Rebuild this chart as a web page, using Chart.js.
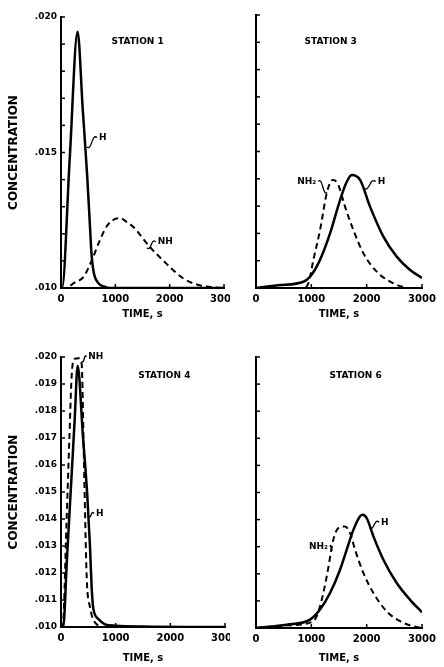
<!DOCTYPE html>
<html>
<head>
<meta charset="utf-8">
<script src="https://cdn.jsdelivr.net/npm/chart.js@4.4.1/dist/chart.umd.min.js"></script>
<style>
  body { margin: 0; background: #fff; width: 444px; height: 667px; position: relative; overflow: hidden; }
  canvas { position: absolute; }
</style>
</head>
<body>
<canvas id="st1" width="230" height="320" style="left:0;top:0"></canvas>
<canvas id="st3" width="214" height="320" style="left:230px;top:0"></canvas>
<canvas id="st4" width="230" height="347" style="left:0;top:320px"></canvas>
<canvas id="st6" width="214" height="347" style="left:230px;top:320px"></canvas>
<script>
// time in s, concentration
const st1TimeH = [0, 20, 160, 305, 400, 480, 530, 560, 600, 680, 800, 900, 3000];
const st1ConcH = [0.0100, 0.0100, 0.01475, 0.01946, 0.0166, 0.0142, 0.0124, 0.0113, 0.0106, 0.0102, 0.01005, 0.0100, 0.0100];
const st1TimeNH = [0, 80, 250, 410, 563, 716, 850, 1000, 1083, 1200, 1327, 1633, 1939, 2245, 2550, 2960];
const st1ConcNH = [0.0100, 0.0100, 0.0102, 0.0104, 0.0110, 0.01177, 0.0123, 0.01255, 0.01258, 0.01245, 0.01226, 0.01152, 0.0109, 0.01036, 0.0101, 0.0100];

const st3TimeH = [0, 400, 856, 976, 1157, 1338, 1519, 1640, 1730, 1881, 2061, 2302, 2543, 2785, 3000];
const st3ConcH = [0.0100, 0.0101, 0.01023, 0.01041, 0.01103, 0.0120, 0.01322, 0.01389, 0.01414, 0.01396, 0.01298, 0.01188, 0.01115, 0.01066, 0.01037];
const st3TimeNH = [0, 850, 946, 1037, 1157, 1278, 1350, 1398, 1488, 1609, 1760, 1941, 2182, 2483, 2725];
const st3ConcNH = [0.0100, 0.0100, 0.01017, 0.01103, 0.01212, 0.01347, 0.0139, 0.01396, 0.01377, 0.01298, 0.01212, 0.01127, 0.0106, 0.01017, 0.0100];

const st4TimeH = [0, 40, 110, 180, 250, 305, 400, 480, 530, 560, 590, 683, 804, 1000, 1500, 3000];
const st4ConcH = [0.0100, 0.0100, 0.01256, 0.01511, 0.01767, 0.01968, 0.0171, 0.0149, 0.0130, 0.0115, 0.0107, 0.0103, 0.0101, 0.01005, 0.01002, 0.0100];
const st4TimeNH = [0, 30, 100, 150, 195, 240, 330, 378, 420, 470, 530, 652, 800, 3000];
const st4ConcNH = [0.0100, 0.0100, 0.0138, 0.0168, 0.0193, 0.01993, 0.01995, 0.01975, 0.0161, 0.01185, 0.01074, 0.0101, 0.0100, 0.0100];

const st6TimeH = [0, 554, 976, 1157, 1338, 1519, 1640, 1760, 1881, 1929, 2002, 2122, 2302, 2543, 2785, 3000];
const st6ConcH = [0.0100, 0.01012, 0.01031, 0.01068, 0.01129, 0.01215, 0.01289, 0.01362, 0.01412, 0.01418, 0.01405, 0.01338, 0.01252, 0.01166, 0.01104, 0.01058];
const st6TimeNH = [0, 600, 1037, 1157, 1278, 1398, 1489, 1609, 1700, 1790, 1941, 2122, 2363, 2604, 2845, 3000];
const st6ConcNH = [0.0100, 0.0101, 0.01025, 0.0108, 0.0119, 0.01326, 0.01369, 0.01375, 0.0135, 0.01289, 0.01203, 0.01129, 0.01061, 0.01025, 0.01006, 0.0100];

const xTickLabels = ['0', '1000', '2000', '3000'];
const yTickLabelsSt1 = ['.010', '.015', '.020'];
const yTickLabelsSt4 = ['.010', '.011', '.012', '.013', '.014', '.015', '.016', '.017', '.018', '.019', '.020'];

const FONT = "'DejaVu Sans', sans-serif";

function pts(times, concs) {
    return times.map((t, i) => ({ x: t, y: concs[i] }));
}

// tick marks inside the axes, station title, curve labels with little leaders
const decorPlugin = {
    id: 'decor',
    afterDraw(chart, args, opts) {
        const ctx = chart.ctx;
        const xs = chart.scales.x, ys = chart.scales.y;
        const area = chart.chartArea;
        ctx.save();
        ctx.strokeStyle = '#000';
        ctx.lineWidth = 1.5;
        ys.ticks.forEach(t => {
            const y = ys.getPixelForValue(t.value);
            ctx.beginPath();
            ctx.moveTo(area.left, y);
            ctx.lineTo(area.left + 4, y);
            ctx.stroke();
        });
        xs.ticks.forEach(t => {
            if (t.value === 0) return;
            const x = xs.getPixelForValue(t.value);
            ctx.beginPath();
            ctx.moveTo(x, area.bottom);
            ctx.lineTo(x, area.bottom - 4);
            ctx.stroke();
        });

        ctx.fillStyle = '#000';
        ctx.font = 'bold 9px ' + FONT;
        ctx.textAlign = 'center';
        ctx.textBaseline = 'middle';
        ctx.fillText(opts.title, area.left + opts.titleX * area.width, area.top + opts.titleY);

        ctx.lineWidth = 1.3;
        (opts.labels || []).forEach(l => {
            const lx = xs.getPixelForValue(l.x), ly = ys.getPixelForValue(l.y);
            const cx = xs.getPixelForValue(l.cx), cy = ys.getPixelForValue(l.cy);
            ctx.textAlign = l.align;
            ctx.fillText(l.text, lx, ly);
            const ex = l.align === 'left' ? lx - 2 : lx + 2;
            const dx = ex - cx;
            ctx.beginPath();
            ctx.moveTo(cx, cy);
            ctx.bezierCurveTo(cx + dx * 0.5, cy + 4, ex - dx * 0.5, ly - 5, ex, ly);
            ctx.stroke();
        });
        ctx.restore();
    }
};

function makeChart(id, cfg) {
    const yLabels = cfg.yLabels;
    new Chart(document.getElementById(id), {
        type: 'line',
        data: {
            datasets: [
                { data: pts(cfg.tH, cfg.cH), borderColor: '#000', borderWidth: 2.5 },
                { data: pts(cfg.tNH, cfg.cNH), borderColor: '#000', borderWidth: 2, borderDash: [6, 4] }
            ]
        },
        options: {
            responsive: false,
            animation: false,
            elements: {
                point: { radius: 0 },
                line: { cubicInterpolationMode: 'monotone', fill: false }
            },
            layout: { padding: cfg.pad },
            plugins: {
                legend: { display: false },
                tooltip: { enabled: false },
                decor: { title: cfg.title, titleX: cfg.titleX, titleY: cfg.titleY, labels: cfg.labels }
            },
            scales: {
                x: {
                    type: 'linear',
                    min: 0, max: 3000,
                    grid: { display: false, drawTicks: false },
                    border: { display: true, color: '#000', width: 2 },
                    ticks: {
                        stepSize: 1000,
                        padding: 5,
                        color: '#000',
                        maxRotation: 0,
                        font: { family: FONT, size: 10, weight: 'bold' },
                        callback: v => xTickLabels.includes(String(v)) ? String(v) : ''
                    },
                    title: {
                        display: true, text: 'TIME, s', color: '#000',
                        font: { family: FONT, size: 10, weight: 'bold' },
                        padding: { top: 0, bottom: cfg.xTitlePad }
                    },
                    afterFit: s => { s.height = cfg.xH; s.paddingLeft = 0; s.paddingRight = 0; }
                },
                y: {
                    min: 0.010, max: 0.020,
                    grid: { display: false, drawTicks: false },
                    border: { display: true, color: '#000', width: 2 },
                    ticks: {
                        stepSize: 0.001,
                        padding: 4,
                        color: '#000',
                        autoSkip: false,
                        font: { family: FONT, size: 9, weight: 'bold' },
                        callback: v => {
                            const s = v.toFixed(3).replace(/^0/, '');
                            return yLabels.includes(s) ? s : '';
                        }
                    },
                    title: {
                        display: cfg.yTitle, text: 'CONCENTRATION', color: '#000',
                        font: { family: FONT, size: 12, weight: 'bold' },
                        padding: { top: 7, bottom: 0 }
                    },
                    afterFit: s => { s.width = cfg.yW; s.paddingTop = 0; s.paddingBottom = 0; }
                }
            }
        },
        plugins: [decorPlugin]
    });
}

makeChart('st1', {
    tH: st1TimeH, cH: st1ConcH, tNH: st1TimeNH, cNH: st1ConcNH,
    yLabels: yTickLabelsSt1, yTitle: true, yW: 61, xH: 32, xTitlePad: 0,
    pad: { left: 0, top: 17, right: 6, bottom: 0 },
    title: 'STATION 1', titleX: 0.47, titleY: 25,
    labels: [
        { text: 'H', x: 700, y: 0.01555, cx: 475, cy: 0.0152, align: 'left' },
        { text: 'NH', x: 1780, y: 0.0117, cx: 1580, cy: 0.01148, align: 'left' }
    ]
});

makeChart('st3', {
    tH: st3TimeH, cH: st3ConcH, tNH: st3TimeNH, cNH: st3ConcNH,
    yLabels: [], yTitle: false, yW: 26, xH: 32, xTitlePad: 0,
    pad: { left: 0, top: 15, right: 22, bottom: 0 },
    title: 'STATION 3', titleX: 0.45, titleY: 27,
    labels: [
        { text: 'NH₂', x: 1090, y: 0.0139, cx: 1285, cy: 0.0135, align: 'right' },
        { text: 'H', x: 2200, y: 0.0139, cx: 1950, cy: 0.01365, align: 'left' }
    ]
});

makeChart('st4', {
    tH: st4TimeH, cH: st4ConcH, tNH: st4TimeNH, cNH: st4ConcNH,
    yLabels: yTickLabelsSt4, yTitle: true, yW: 61, xH: 40, xTitlePad: 3,
    pad: { left: 0, top: 37, right: 5, bottom: 0 },
    title: 'STATION 4', titleX: 0.63, titleY: 19,
    labels: [
        { text: 'NH', x: 500, y: 0.0200, cx: 385, cy: 0.01985, align: 'left' },
        { text: 'H', x: 640, y: 0.0142, cx: 505, cy: 0.0141, align: 'left' }
    ]
});

makeChart('st6', {
    tH: st6TimeH, cH: st6ConcH, tNH: st6TimeNH, cNH: st6ConcNH,
    yLabels: [], yTitle: false, yW: 26, xH: 39, xTitlePad: 3,
    pad: { left: 0, top: 37, right: 22, bottom: 0 },
    title: 'STATION 6', titleX: 0.6, titleY: 19,
    labels: [
        { text: 'NH₂', x: 1300, y: 0.0130, cx: 1380, cy: 0.0129, align: 'right' },
        { text: 'H', x: 2260, y: 0.0139, cx: 2050, cy: 0.0137, align: 'left' }
    ]
});
</script>
</body>
</html>
